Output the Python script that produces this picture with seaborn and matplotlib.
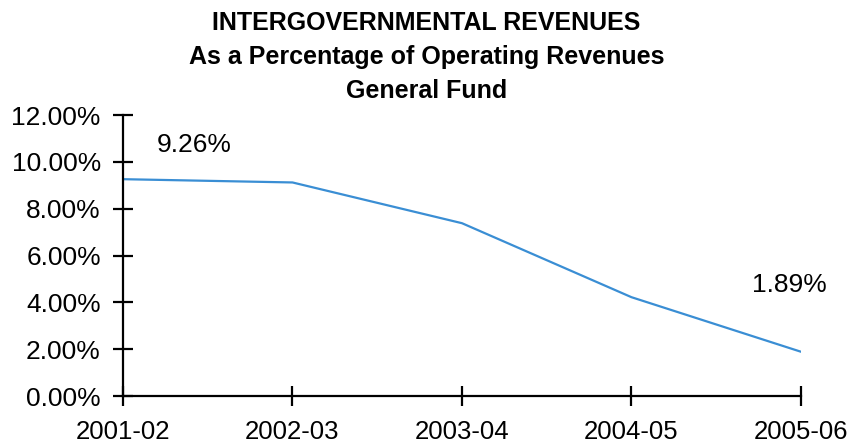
import matplotlib
matplotlib.use("Agg")
import matplotlib.pyplot as plt
import seaborn as sns
import pandas as pd

# Fiscal years and intergovernmental share of operating revenues (%)
years = ["2001-02", "2002-03", "2003-04", "2004-05", "2005-06"]
pct = [9.26, 9.12, 7.38, 4.22, 1.89]
y_ticks = [0, 2, 4, 6, 8, 10, 12]

df = pd.DataFrame({"year": years, "pct": pct})

sns.set_theme(style="white")
plt.rcParams["font.family"] = ["Liberation Sans", "DejaVu Sans"]

fig = plt.figure(figsize=(8.53, 4.46), dpi=100)
ax = fig.add_axes([0.1442, 0.1121, 0.7948, 0.630])

sns.lineplot(data=df, x="year", y="pct", ax=ax, color="#3a8ed4",
             linewidth=1.6, sort=False)

ax.set_xlim(0, len(years) - 1)
ax.set_ylim(0, 12)
ax.set_yticks(y_ticks)
ax.set_yticklabels([f"{v:.2f}%" for v in y_ticks], fontsize=19)
ax.set_xticks(range(len(years)))
ax.set_xticklabels(years, fontsize=18.5)
ax.set_xlabel("")
ax.set_ylabel("")

for side in ["top", "right"]:
    ax.spines[side].set_visible(False)
for side in ["left", "bottom"]:
    ax.spines[side].set_color("black")
    ax.spines[side].set_linewidth(1.6)

ax.tick_params(axis="both", direction="inout", length=14, width=1.6,
               color="black", labelcolor="black", bottom=True, left=True)
ax.tick_params(axis="y", pad=9)
ax.tick_params(axis="x", pad=10)

# Value labels at the first and last points
ax.text(0.2, pct[0] + 1.47, f"{pct[0]:.2f}%", fontsize=19, ha="left",
        va="center", color="black")
ax.text(len(years) - 1.07, pct[-1] + 2.85, f"{pct[-1]:.2f}%", fontsize=19,
        ha="center", va="center", color="black")

fig.text(0.5, 0.948, "INTERGOVERNMENTAL REVENUES", ha="center", va="center",
         fontsize=18, fontweight="bold", color="black")
fig.text(0.5, 0.872, "As a Percentage of Operating Revenues", ha="center",
         va="center", fontsize=18, fontweight="bold", color="black")
fig.text(0.5, 0.796, "General Fund", ha="center", va="center",
         fontsize=18, fontweight="bold", color="black")

fig.savefig("out.png", dpi=100, facecolor="white")
